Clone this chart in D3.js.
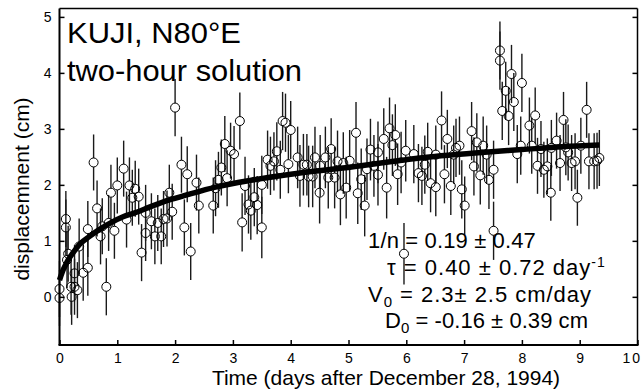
<!DOCTYPE html>
<html><head><meta charset="utf-8">
<script src="https://cdn.jsdelivr.net/npm/d3@7"></script>
<style>
html,body{margin:0;padding:0;background:#fff;}
text{font-family:"Liberation Sans",Arial,Helvetica,sans-serif;fill:#000;}
</style></head>
<body>
<svg id="chart" width="642" height="390"></svg>
<script>
// ---- data ----
const times = [0.00,0.00,0.11,0.11,0.13,0.15,0.20,0.21,0.26,0.26,0.31,0.34,0.41,0.49,0.49,0.59,0.65,0.71,0.74,0.81,0.85,0.89,0.95,1.00,1.11,1.16,1.21,1.26,1.31,1.37,1.42,1.49,1.49,1.59,1.65,1.70,1.76,1.80,1.86,1.90,1.95,2.00,
2.11,2.16,2.21,2.27,2.37,2.41,2.66,2.70,2.75,2.80,2.86,2.90,2.96,3.02,3.12,3.16,3.21,3.27,3.31,3.37,3.42,3.50,3.50,3.60,3.65,3.71,3.76,3.82,3.86,3.91,3.96,4.00,
4.12,4.16,4.22,4.28,4.31,4.38,4.42,4.50,4.51,4.60,4.65,4.70,4.76,4.81,4.86,4.91,4.96,5.02,5.13,5.16,5.22,5.28,5.32,5.38,5.44,5.51,5.51,5.61,5.66,5.71,5.76,5.81,5.85,5.91,5.96,5.99,
6.13,6.21,6.27,6.32,6.37,6.42,6.51,6.51,6.61,6.66,6.71,6.77,6.82,6.86,6.92,6.96,7.01,7.13,7.17,7.22,7.28,7.33,7.39,7.43,7.51,7.51,7.62,7.62,7.66,7.72,7.77,7.82,7.86,7.92,7.98,8.00,
8.13,8.17,8.23,8.27,8.33,8.38,8.44,8.50,8.51,8.60,8.66,8.72,8.76,8.80,8.86,8.92,8.96,9.02,9.12,9.16,9.25,9.30,9.34];
const displacements = [0.14,-0.02,1.39,1.24,0.66,0.77,0.18,0.00,0.42,0.18,0.12,0.90,0.43,1.21,0.52,2.40,1.58,1.08,1.26,0.18,1.32,1.86,1.18,1.99,2.29,1.38,1.99,1.77,1.93,1.79,0.79,1.50,1.14,1.35,1.08,1.32,1.08,1.39,1.40,1.86,1.52,3.38,
2.36,1.24,2.19,0.81,2.04,1.63,1.63,1.94,2.09,2.31,2.73,2.12,2.61,2.55,3.14,1.33,1.98,1.65,1.54,1.78,1.64,2.00,1.24,2.45,2.34,2.42,2.60,2.27,3.14,3.11,2.37,2.98,
2.49,2.16,2.36,2.36,2.15,2.15,2.49,1.86,2.34,2.49,2.13,2.64,2.13,2.42,1.83,2.39,1.95,2.43,2.93,1.85,2.10,1.63,2.28,2.63,2.34,2.18,2.58,2.82,1.95,3.01,2.71,2.89,2.19,2.40,0.77,2.61,
2.55,2.21,2.16,2.36,2.59,2.03,1.96,2.54,3.15,2.19,2.82,1.98,2.54,2.66,2.70,1.92,1.63,2.96,2.33,2.76,2.17,2.70,2.54,2.09,2.27,1.18,4.40,4.22,3.32,3.68,3.23,3.98,3.48,2.55,2.70,3.82,
3.06,2.70,3.24,2.34,2.64,2.27,2.33,1.86,2.66,2.79,2.39,3.16,2.67,2.58,2.39,2.42,1.77,2.70,3.34,2.42,2.42,2.43,2.48];
const errors = [0.50,0.50,0.50,0.50,0.50,0.50,0.50,0.50,0.50,0.50,0.50,0.50,0.50,0.50,0.50,0.50,0.50,0.50,0.50,0.51,0.50,0.50,0.50,0.50,0.50,0.50,0.50,0.50,0.50,0.50,0.51,0.50,0.50,0.50,0.50,0.50,0.50,0.50,0.50,0.50,0.50,0.51,
0.50,0.50,0.50,0.51,0.50,0.50,0.50,0.50,0.50,0.50,0.50,0.50,0.50,0.50,0.51,0.52,0.52,0.52,0.52,0.52,0.52,0.52,0.55,0.52,0.52,0.52,0.52,0.52,0.52,0.52,0.52,0.52,
0.55,0.55,0.55,0.55,0.55,0.55,0.55,0.55,0.55,0.55,0.55,0.55,0.55,0.55,0.55,0.55,0.55,0.55,0.55,0.55,0.55,0.55,0.55,0.55,0.55,0.55,0.55,0.55,0.55,0.55,0.55,0.55,0.55,0.55,0.55,0.55,
0.52,0.52,0.52,0.52,0.52,0.52,0.52,0.52,0.52,0.52,0.52,0.52,0.52,0.52,0.52,0.52,0.52,0.52,0.52,0.52,0.52,0.52,0.52,0.52,0.52,0.52,0.52,0.52,0.52,0.52,0.52,0.52,0.52,0.52,0.52,0.52,
0.50,0.50,0.50,0.50,0.50,0.50,0.50,0.50,0.50,0.50,0.50,0.50,0.50,0.50,0.50,0.50,0.50,0.50,0.50,0.50,0.50,0.50,0.50];
const fitTimes = [0,0.05,0.1,0.15,0.23,0.36,0.52,0.7,0.9,1.1,1.3,1.6,1.9,2.2,2.7,3.3,4.0,4.9,6.0,6.6,7.3,8.0,8.7,9.34];
const fitValues = [0.30,0.45,0.56,0.66,0.78,0.95,1.08,1.21,1.33,1.43,1.50,1.62,1.73,1.82,1.96,2.08,2.19,2.30,2.45,2.52,2.58,2.63,2.68,2.71];
const xTicks = [0,1,2,3,4,5,6,7,8,9,10];
const yTicks = [0,1,2,3,4,5];
const titleLines = ["KUJI, N80°E","two-hour solution"];
const xLabel = "Time (days after December 28, 1994)";
const yLabel = "displacemnent (cm)";

// ---- drawing ----
const svg = d3.select("#chart");
const x = d3.scaleLinear().domain([0,10]).range([59.5,637.5]);
const y = d3.scaleLinear().domain([-0.86,5.15]).range([345,8.5]);

const pts = times.map((t,i)=>({t, v:displacements[i], e:errors[i]}));
const r = 4.5;

// error bars (drawn outside the hollow circle)
const bars = svg.append("g").attr("stroke","#1a1a1a").attr("stroke-width",1.4);
pts.forEach(p=>{
  const cx = x(p.t), cy = y(p.v);
  bars.append("line").attr("x1",cx).attr("x2",cx).attr("y1",y(p.v+p.e)).attr("y2",cy-r);
  bars.append("line").attr("x1",cx).attr("x2",cx).attr("y1",cy+r).attr("y2",y(p.v-p.e));
});
svg.append("g").selectAll("circle").data(pts).join("circle")
  .attr("cx",d=>x(d.t)).attr("cy",d=>y(d.v)).attr("r",r)
  .attr("fill","none").attr("stroke","#000").attr("stroke-width",1);

// fit curve
const line = d3.line().x((d,i)=>x(fitTimes[i])).y(d=>y(d)).curve(d3.curveMonotoneX);
svg.append("path").attr("d",line(fitValues)).attr("fill","none")
  .attr("stroke","#000").attr("stroke-width",5.5).attr("stroke-linecap","butt");

// frame
const fr = svg.append("g").attr("fill","none").attr("stroke","#000");
fr.append("line").attr("x1",x(0)).attr("x2",x(0)).attr("y1",y.range()[1]).attr("y2",y.range()[0]).attr("stroke-width",2);
fr.append("line").attr("x1",x(0)-1).attr("x2",x(10)+1).attr("y1",y.range()[0]).attr("y2",y.range()[0]).attr("stroke-width",2);
fr.append("line").attr("x1",x(0)).attr("x2",x(10)).attr("y1",y.range()[1]).attr("y2",y.range()[1]).attr("stroke-width",1.5);
fr.append("line").attr("x1",x(10)).attr("x2",x(10)).attr("y1",y.range()[1]).attr("y2",y.range()[0]).attr("stroke-width",1.5);

// axes via d3 (inward ticks)
const xAxis = d3.axisBottom(x).tickValues(xTicks).tickSize(-5).tickPadding(8).tickFormat(d3.format("d"));
const gx = svg.append("g").attr("transform",`translate(0,${y.range()[0]})`).call(xAxis);
gx.select(".domain").remove();
gx.selectAll(".tick line").attr("stroke-width",1.5);
gx.selectAll("text").attr("font-size",14).attr("font-family","Liberation Sans, Arial, sans-serif")
  .attr("letter-spacing",d=>d===10?2:0)
  .attr("text-anchor",d=>d===10?"end":"middle")
  .attr("x",d=>d===10?4:0);

const yAxis = d3.axisLeft(y).tickValues(yTicks).tickSize(-5).tickPadding(8).tickFormat(d3.format("d"));
const gy = svg.append("g").attr("transform",`translate(${x(0)},0)`).call(yAxis);
gy.select(".domain").remove();
gy.selectAll(".tick line").attr("stroke-width",1.5);
gy.selectAll("text").attr("font-size",14).attr("font-family","Liberation Sans, Arial, sans-serif");

const yAxisR = d3.axisRight(y).tickValues(yTicks).tickSize(-5).tickFormat("");
const gyr = svg.append("g").attr("transform",`translate(${x(10)},0)`).call(yAxisR);
gyr.select(".domain").remove();
gyr.selectAll(".tick line").attr("stroke-width",1.5);

// titles
svg.append("text").attr("x",67).attr("y",43).attr("font-size",29)
  .attr("textLength",174).attr("lengthAdjust","spacingAndGlyphs").text(titleLines[0]);
svg.append("text").attr("x",67).attr("y",81).attr("font-size",29)
  .attr("textLength",235).attr("lengthAdjust","spacingAndGlyphs").text(titleLines[1]);
svg.append("text").attr("x",386).attr("y",385).attr("text-anchor","middle").attr("font-size",21).text(xLabel);
svg.append("text").attr("transform","translate(29,189) rotate(-90)").attr("text-anchor","middle").attr("font-size",21).text(yLabel);

// parameter annotation
const ann = svg.append("g").attr("font-size",22);
let t1 = ann.append("text").attr("x",368).attr("y",248).text("1/n = 0.19 ± 0.47");
let t2 = ann.append("text").attr("x",387).attr("y",275);
t2.append("tspan").text("τ = 0.40 ± 0.72 day");
t2.append("tspan").attr("dy",-8).attr("font-size",14).text("-1");
let t3 = ann.append("text").attr("x",368).attr("y",301.5);
t3.append("tspan").text("V");
t3.append("tspan").attr("dy",5).attr("font-size",15).text("0");
t3.append("tspan").attr("dy",-5).text(" = 2.3± 2.5 cm/day");
let t4 = ann.append("text").attr("x",385).attr("y",328);
t4.append("tspan").text("D");
t4.append("tspan").attr("dy",5).attr("font-size",15).text("0");
t4.append("tspan").attr("dy",-5).text(" = -0.16 ± 0.39 cm");

// stretch annotation lines slightly so their right ends sit where the reference's do
[[t1,536],[t2,606],[t3,592],[t4,588]].forEach(([t,endX])=>{
  const node = t.node();
  const bb = node.getBBox();
  const nChars = node.textContent.length;
  const extra = endX - (bb.x + bb.width);
  if (extra > 0) t.attr("letter-spacing", extra / nChars);
});
</script>
</body></html>
